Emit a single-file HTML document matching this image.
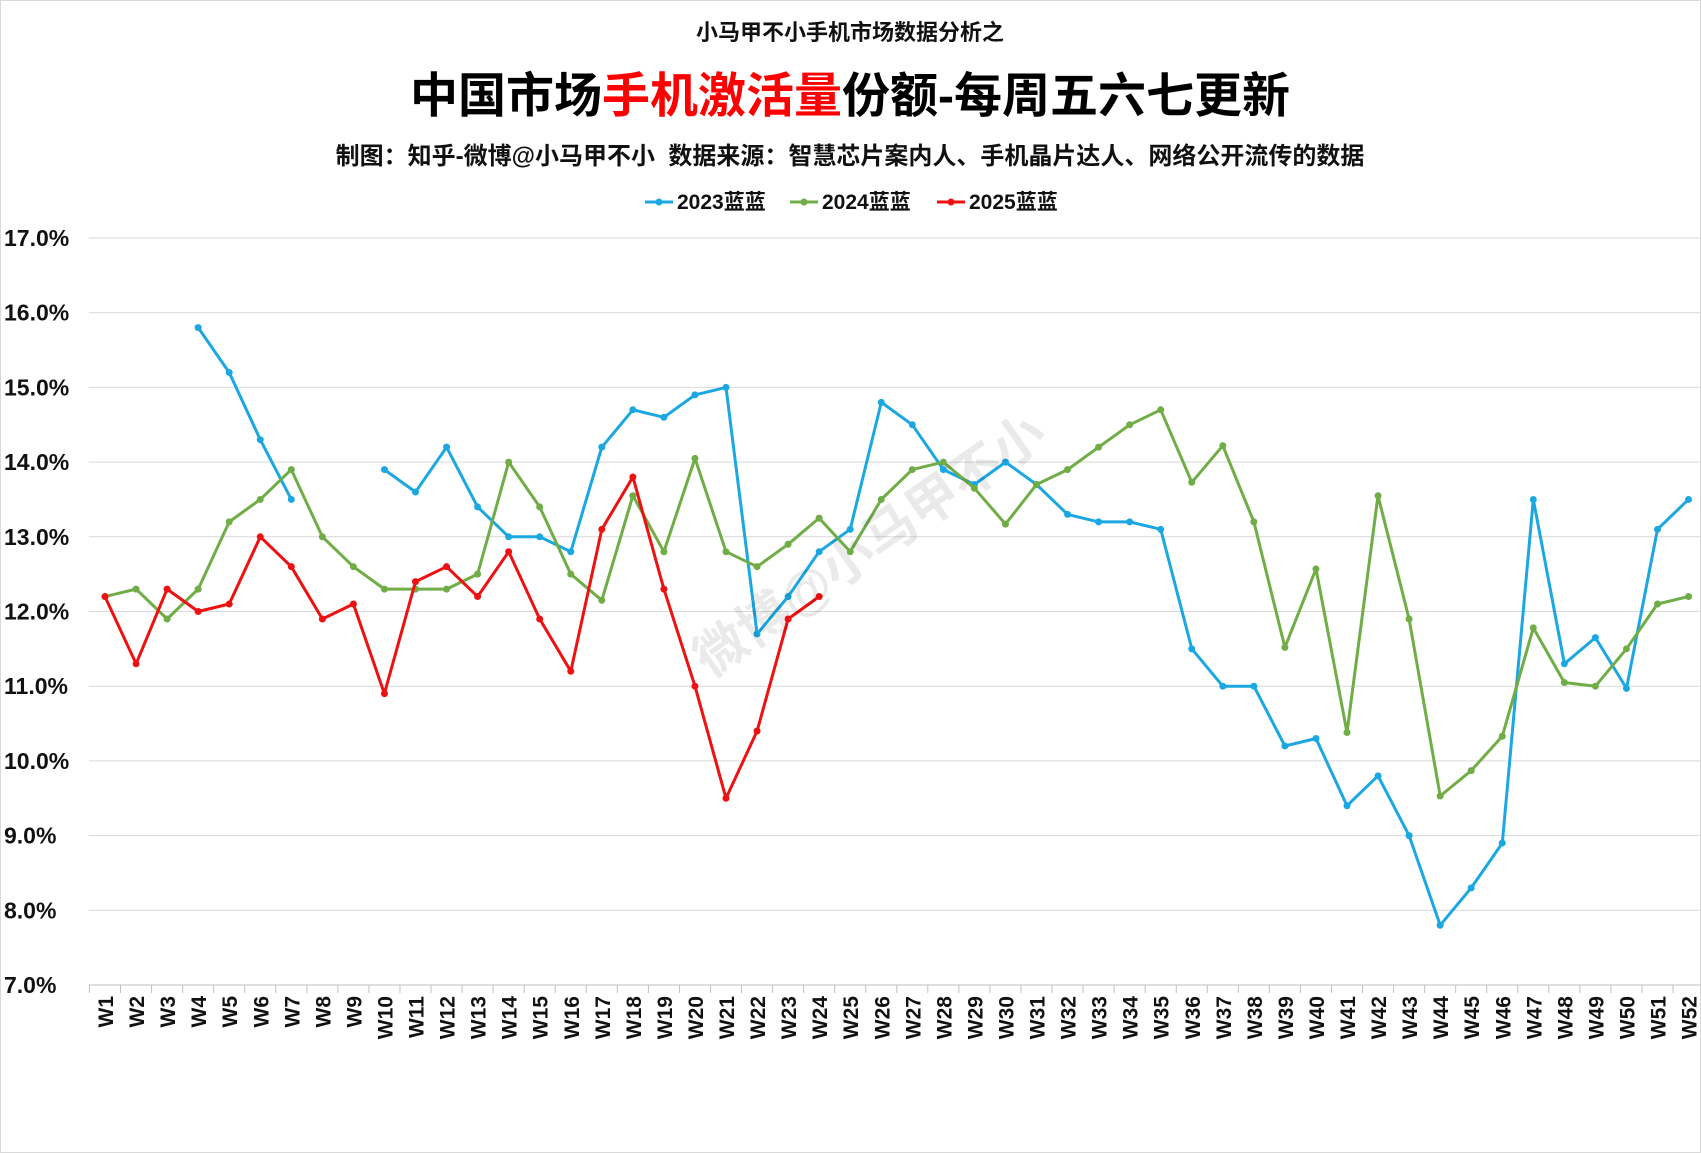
<!DOCTYPE html>
<html><head><meta charset="utf-8"><style>
body{margin:0;background:#fff;}
svg{display:block;font-family:"Liberation Sans","Noto Sans CJK SC",sans-serif;}
</style></head><body>
<svg id="chart" width="1701" height="1153" viewBox="0 0 1701 1153">
<rect x="0.5" y="0.5" width="1700" height="1152" fill="#fff" stroke="#d9d9d9"/>
<text x="850" y="40" text-anchor="middle" font-size="22" font-weight="bold" fill="#111">小马甲不小手机市场数据分析之</text>
<text x="850" y="112" text-anchor="middle" font-size="48" font-weight="bold" fill="#000">中国市场<tspan fill="#ff0000">手机激活量</tspan>份额-每周五六七更新</text>
<text x="850" y="164" text-anchor="middle" font-size="24" font-weight="bold" fill="#111" xml:space="preserve">制图：知乎-微博@小马甲不小  数据来源：智慧芯片案内人、手机晶片达人、网络公开流传的数据</text>
<g id="grid"></g><g id="axes"></g><g id="series"></g><g id="legend"></g>
<text x="880" y="560" transform="rotate(-35 880 560)" text-anchor="middle" font-size="52" font-weight="bold" fill="#000" opacity="0.08">微博@小马甲不小</text>
</svg>
<script>
const categories=[];for(let i=1;i<=52;i++)categories.push('W'+i);
const yTicks=[7,8,9,10,11,12,13,14,15,16,17];
const s2023=[null,null,null,15.8,15.2,14.3,13.5,null,null,13.9,13.6,14.2,13.4,13.0,13.0,12.8,14.2,14.7,14.6,14.9,15.0,11.7,12.2,12.8,13.1,14.8,14.5,13.9,13.7,14.0,13.7,13.3,13.2,13.2,13.1,11.5,11.0,11.0,10.2,10.3,9.4,9.8,9.0,7.8,8.3,8.9,13.5,11.3,11.65,10.97,13.1,13.5];
const s2024=[12.2,12.3,11.9,12.3,13.2,13.5,13.9,13.0,12.6,12.3,12.3,12.3,12.5,14.0,13.4,12.5,12.15,13.55,12.8,14.05,12.8,12.6,12.9,13.25,12.8,13.5,13.9,14.0,13.65,13.17,13.7,13.9,14.2,14.5,14.7,13.73,14.22,13.2,11.52,12.57,10.38,13.55,11.9,9.53,9.87,10.33,11.78,11.05,11.0,11.5,12.1,12.2];
const s2025=[12.2,11.3,12.3,12.0,12.1,13.0,12.6,11.9,12.1,10.9,12.4,12.6,12.2,12.8,11.9,11.2,13.1,13.8,12.3,11.0,9.5,10.4,11.9,12.2];
const seriesNames=['2023蓝蓝','2024蓝蓝','2025蓝蓝'];
const colors=['#1ba7e1','#70ad47','#ee1111'];
const NS='http://www.w3.org/2000/svg';
const step=31.05,x0=105;
const xs=i=>x0+i*step;
const ys=v=>985-(v-7)*74.7;
function mk(tag,attrs,parent){const e=document.createElementNS(NS,tag);for(const k in attrs)e.setAttribute(k,attrs[k]);parent.appendChild(e);return e;}
const grid=document.getElementById('grid'),axes=document.getElementById('axes'),ser=document.getElementById('series'),leg=document.getElementById('legend');
yTicks.forEach(t=>{
 const l=mk('line',{x1:89,x2:1701,y1:ys(t),y2:ys(t),stroke:t===7?'#bfbfbf':'#d9d9d9','stroke-width':1},grid);
 
 
 const tx=mk('text',{x:4,y:ys(t)+8,'font-size':23,'font-weight':'bold',fill:'#111'},axes);
 tx.textContent=t.toFixed(1)+'%';
 
 
});
categories.forEach((c,i)=>{
 const tk=mk('line',{x1:xs(i)-step/2,x2:xs(i)-step/2,y1:985,y2:993,stroke:'#bfbfbf'},axes);
 
 
 const tx=mk('text',{x:0,y:0,'font-size':21,'font-weight':'bold',fill:'#111','text-anchor':'end',transform:`translate(${xs(i)+8},996) rotate(-90)`},axes);
 tx.textContent=c;
 
 
});
[s2023,s2024,s2025].forEach((s,k)=>{
 const g=mk('g',{},ser);
 
 
 let d='',pen=false;
 s.forEach((v,i)=>{if(v==null){pen=false;return;}d+=(pen?'L':'M')+xs(i).toFixed(1)+' '+ys(v).toFixed(1)+' ';pen=true;});
 const p=mk('path',{d:d,fill:'none',stroke:colors[k],'stroke-width':3,'stroke-linejoin':'round'},g);
 
 
 s.forEach((v,i)=>{if(v==null)return;
  const c=mk('circle',{cx:xs(i),cy:ys(v),r:3.5,fill:colors[k]},g);
  
  
 });
});
const legX=[645,790,937];
seriesNames.forEach((n,k)=>{
 const g=mk('g',{},leg);
 
 
 mk('line',{x1:legX[k],x2:legX[k]+28,y1:202,y2:202,stroke:colors[k],'stroke-width':3},g);
 mk('circle',{cx:legX[k]+14,cy:202,r:3.5,fill:colors[k]},g);
 const t=mk('text',{x:legX[k]+32,y:209,'font-size':21,'font-weight':'bold',fill:'#111'},g);
 t.textContent=n;
});
</script>
</body></html>
